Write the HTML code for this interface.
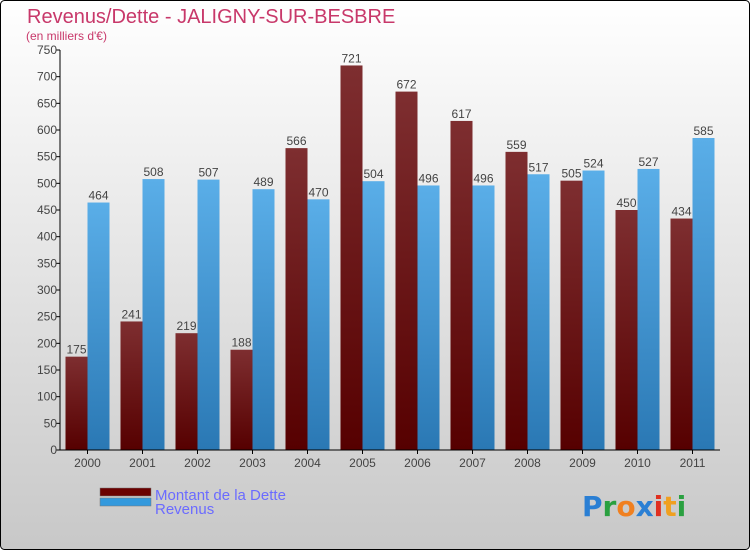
<!DOCTYPE html>
<html><head><meta charset="utf-8"><style>
html,body{margin:0;padding:0}
body{width:750px;height:550px;overflow:hidden;font-family:"Liberation Sans",sans-serif}
</style></head><body>
<svg id="chart" width="750" height="550" xmlns="http://www.w3.org/2000/svg">
<defs>
<linearGradient id="bg" x1="0" y1="0" x2="0" y2="1"><stop offset="0" stop-color="#ffffff"/><stop offset="1" stop-color="#c8c8c8"/></linearGradient>
<linearGradient id="gd" x1="0" y1="0" x2="0" y2="1"><stop offset="0" stop-color="#7e2e30"/><stop offset="1" stop-color="#560000"/></linearGradient>
<linearGradient id="gr" x1="0" y1="0" x2="0" y2="1"><stop offset="0" stop-color="#5aaee8"/><stop offset="1" stop-color="#2a78b4"/></linearGradient>
</defs>
<rect x="0.5" y="0.5" width="749" height="549" rx="4" fill="url(#bg)" stroke="#000"/>
<text x="27" y="23" font-size="20" fill="#c8386a">Revenus/Dette - JALIGNY-SUR-BESBRE</text>
<text x="26" y="40" font-size="12" fill="#c8386a">(en milliers d'€)</text>
<g id="plot"></g>
<g>
<rect x="100" y="488" width="51" height="8" fill="#6a0000" stroke="#777" stroke-width="0.5"/>
<text x="155" y="500" font-size="15" fill="#6b6bff">Montant de la Dette</text>
<rect x="100" y="498" width="51" height="8" fill="#3399dd" stroke="#777" stroke-width="0.5"/>
<text x="155" y="514" font-size="15" fill="#6b6bff">Revenus</text>
</g>
<text x="582" y="516" font-size="28" font-weight="bold" font-family="'DejaVu Sans',sans-serif"><tspan fill="#2a7fd4">P</tspan><tspan fill="#2aa040">r</tspan><tspan fill="#f08020">o</tspan><tspan fill="#2a7fd4">x</tspan><tspan fill="#e03020">i</tspan><tspan fill="#f0a020">t</tspan><tspan fill="#2aa040">i</tspan></text>
</svg>
<script>
const years=["2000","2001","2002","2003","2004","2005","2006","2007","2008","2009","2010","2011"];
const debt=[175,241,219,188,566,721,672,617,559,505,450,434];
const revenue=[464,508,507,489,470,504,496,496,517,524,527,585];
const yTicks=[0,50,100,150,200,250,300,350,400,450,500,550,600,650,700,750];
const NS="http://www.w3.org/2000/svg";
const X0=60,X1=720,Y0=450,Y1=50,YMAX=750;
const band=(X1-X0)/years.length;
function y(v){return Y0-(v/YMAX)*(Y0-Y1);}
function xc(i){return X0+band*(i+0.5);}
const g=document.getElementById('plot');
function mk(t,a){const e=document.createElementNS(NS,t);for(const k in a)e.setAttribute(k,a[k]);g.appendChild(e);return e;}
yTicks.forEach(v=>{
 const l=mk('line',{x1:X0-4,x2:X0,y1:y(v),y2:y(v),stroke:'#000'});
 
 
 const t=mk('text',{x:X0-3,y:y(v)+4,'text-anchor':'end','font-size':12,fill:'#444'});
 t.textContent=v;
 
 
});
const bw=22;
years.forEach((yr,i)=>{
 const c=xc(i);
 const d=mk('rect',{x:c-bw,y:y(debt[i]),width:bw,height:Y0-y(debt[i]),fill:'url(#gd)'});
 
 
 const r=mk('rect',{x:c,y:y(revenue[i]),width:bw,height:Y0-y(revenue[i]),fill:'url(#gr)'});
 
 
 const dl=mk('text',{x:c-bw/2,y:y(debt[i])-3,'text-anchor':'middle','font-size':12,fill:'#444'});
 dl.textContent=debt[i];
 
 
 const rl=mk('text',{x:c+bw/2,y:y(revenue[i])-3,'text-anchor':'middle','font-size':12,fill:'#444'});
 rl.textContent=revenue[i];
 
 
 const tk=mk('line',{x1:c,x2:c,y1:Y0,y2:Y0+4,stroke:'#000'});
 
 
 const xl=mk('text',{x:c,y:Y0+17,'text-anchor':'middle','font-size':12,fill:'#444'});
 xl.textContent=yr;
 
 
});
const ya=mk('line',{x1:X0,x2:X0,y1:Y1,y2:Y0,stroke:'#000'});


const xa=mk('line',{x1:X0,x2:X1,y1:Y0,y2:Y0,stroke:'#000'});


</script>
</body></html>
